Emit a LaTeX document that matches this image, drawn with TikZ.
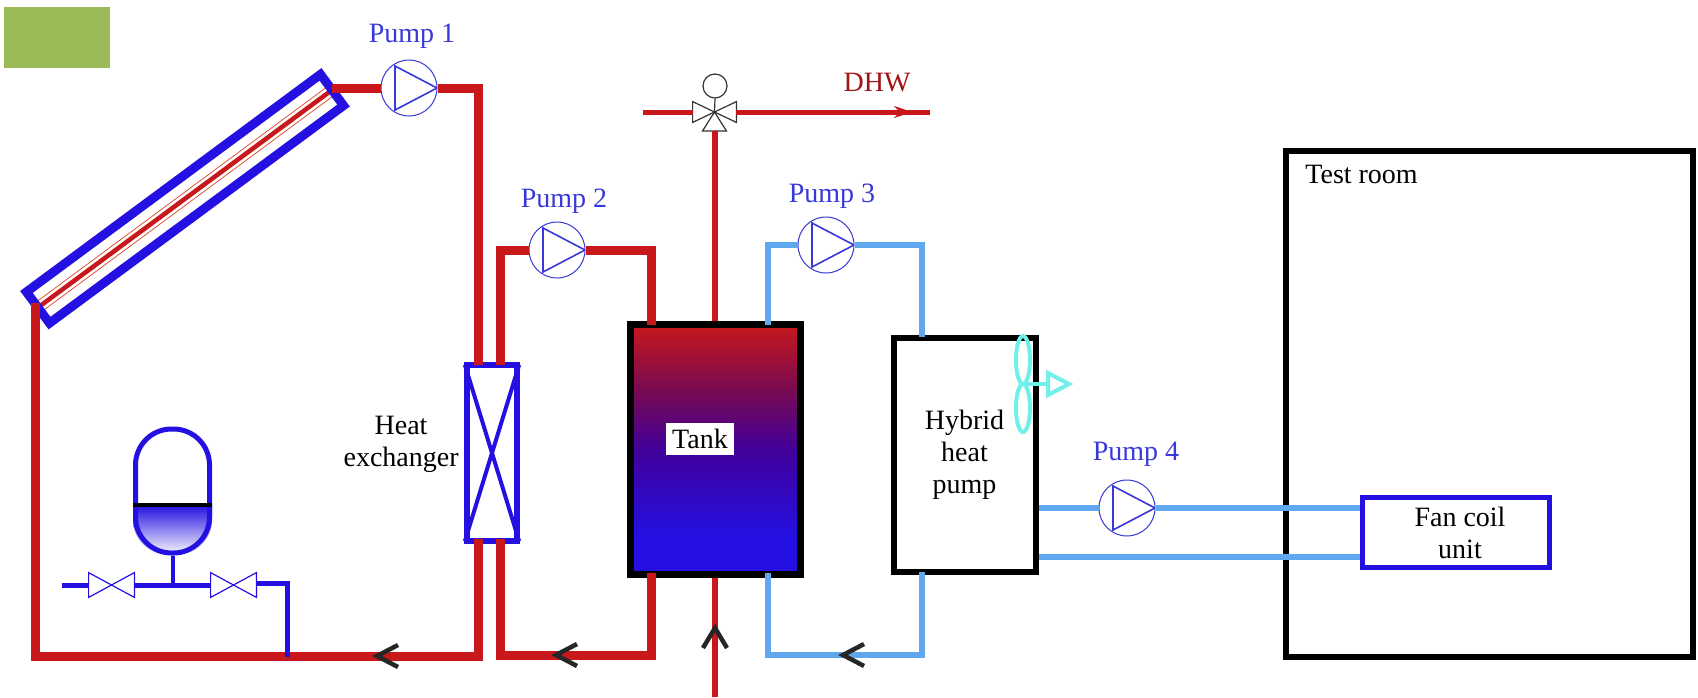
\documentclass[tikz,border=0pt]{standalone}
\usepackage{fontspec}
\setmainfont{Liberation Serif}
\usetikzlibrary{positioning,backgrounds,arrows.meta}
\definecolor{hotred}{HTML}{C8181C}
\definecolor{coolblue}{HTML}{5FA8EE}
\definecolor{deepblue}{HTML}{2410E0}
\definecolor{pumpblue}{HTML}{3838D8}
\definecolor{fancyan}{HTML}{70F0E8}
\definecolor{labelgreen}{HTML}{9BBB59}
\definecolor{tankmid}{HTML}{42009A}
\definecolor{tankdusk}{HTML}{7A0A50}
\pgfdeclareverticalshading{tankfade}{100bp}{color(0bp)=(deepblue); color(33bp)=(deepblue); color(50bp)=(tankmid); color(62bp)=(tankdusk); color(75bp)=(hotred); color(100bp)=(hotred)}
\begin{document}
\begin{tikzpicture}[
	x=0.5pt, y=-0.5pt,
	node distance=4.5pt and 4.5pt,
	every node/.style={font=\fontsize{14}{16}\selectfont},
	block/.style={rectangle, draw=black, fill=white, line width=3pt, inner sep=0pt, align=center},
	tag/.style={inner sep=0pt, align=center},
	pumptag/.style={tag, text=pumpblue},
	pumpunit/.style={circle, draw=pumpblue, fill=white, line width=0.5pt, inner sep=0pt, minimum size=28pt,
		path picture={\draw[pumpblue, line width=0.8pt] ([xshift=-7pt,yshift=11pt]path picture bounding box.center) -- ([xshift=-7pt,yshift=-11pt]path picture bounding box.center) -- ([xshift=14pt]path picture bounding box.center) -- cycle;}},
	gate/.style={inner sep=0pt, minimum width=22.5pt, minimum height=12pt},
	hot/.style={draw=hotred, line width=4.5pt},
	hotthin/.style={draw=hotred, line width=3pt},
	dhw/.style={draw=hotred, line width=2.5pt},
	cool/.style={draw=coolblue, line width=2.75pt},
	feed/.style={draw=deepblue, line width=2.5pt},
	fanline/.style={draw=fancyan, line width=2pt},
	barb/.style={draw=black!85, line width=2.25pt},
	]
	\useasboundingbox (0,0) rectangle (1698,697);
	\node[fill=labelgreen, inner sep=0pt, minimum width=53pt, minimum height=30.5pt] (badge) at (57,37.5) {};

	\node[block, minimum width=203.5pt, minimum height=253pt] (room) at (1489.5,404) {};
	\node[tag, below right=8.5pt and 11pt of room.north west] (roomtag) {Test room};

	%collector
	\node[rectangle, inner sep=0pt, rotate=36.5, minimum width=182.5pt, minimum height=19pt] (collector) at (185,198.75) {};
	\draw[draw=hotred!70!orange, line width=0.4pt, double=white, double distance=5pt] (collector.west) -- (collector.east);
	\draw[hotred, line width=2.25pt] (collector.west) -- (collector.east);
	\draw[deepblue, line width=4.5pt] (collector.north west) -- (collector.north east) -- (collector.south east) -- (collector.south west) -- cycle;

	\node[pumpunit] (pump1) at (409,88) {};
	\node[pumptag, above=of pump1, xshift=1.5pt, yshift=1pt] (pump1tag) {Pump 1};
	\node[pumpunit] (pump2) at (557,250) {};
	\node[pumptag, above=of pump2, xshift=3.5pt, yshift=-0.5pt] (pump2tag) {Pump 2};
	\node[pumpunit] (pump3) at (826,245) {};
	\node[pumptag, above=of pump3, xshift=3pt, yshift=-0.5pt] (pump3tag) {Pump 3};
	\node[pumpunit] (pump4) at (1127,508) {};
	\node[pumptag, above=of pump4, xshift=4.5pt, yshift=2pt] (pump4tag) {Pump 4};

	\node[block, draw=deepblue, minimum width=25pt, minimum height=88pt] (hex) at (492,453) {};
	\draw[deepblue, line width=2pt, shorten >=1.5pt, shorten <=1.5pt] (hex.north west) -- (hex.south east);
	\draw[deepblue, line width=2pt, shorten >=1.5pt, shorten <=1.5pt] (hex.north east) -- (hex.south west);
	\node[tag, left=2.5pt of hex, yshift=4.5pt] (hextag) {Heat\\exchanger};

	\node[block, line width=3.5pt, shading=tankfade, minimum width=85pt, minimum height=125pt] (tank) at (715,449) {};
	\node[fill=white, inner sep=3pt] (tanktag) at (700,439) {Tank};

	\node[block, minimum width=71pt, minimum height=117pt] (hybrid) at (964.5,454.5) {Hybrid\\heat\\pump};
	\node[block, draw=deepblue, line width=2.5pt, minimum width=93.5pt, minimum height=35pt] (coil) at (1456,532.5) {};
	\node[tag] (coiltag) at (1460,533) {Fan coil\\unit};

	%fan
	\coordinate (fanhub) at (1023,384);
	\draw[fanline] (fanhub) ++(0,-24) ellipse (7 and 24);
	\draw[fanline] (fanhub) ++(0,24) ellipse (7 and 24);
	\draw[fanline] (fanhub) -- ++(25,0);
	\draw[fanline] (fanhub) +(25,-11) -- +(46,0) -- +(25,11) -- cycle;

	%vessel
	\node[rectangle, draw=deepblue, line width=2.5pt, rounded corners=18pt, inner sep=0pt, minimum width=37pt, minimum height=62pt] (vessel) at (172.5,491) {};
	\coordinate (level) at (172.5,505);
	\begin{scope}[on background layer]
		\shade[top color=deepblue, bottom color=white] (vessel.west |- level) -- (vessel.east |- level) [rounded corners=18pt] -- (vessel.south east) -- (vessel.south west) [sharp corners] -- cycle;
	\end{scope}
	\draw[black, line width=2pt] (vessel.west |- level) -- (vessel.east |- level);
	\node[gate] (valvea) at (111.5,585) {};
	\node[gate] (valveb) at (233.5,585) {};
	\foreach \v in {valvea,valveb}
		\draw[deepblue, line width=0.6pt] (\v.north west) -- (\v.south east) -- (\v.north east) -- (\v.south west) -- cycle;

	%mixing valve
	\node[gate, minimum width=21.5pt, minimum height=10pt] (mix) at (714.5,112) {};
	\draw[black!80, line width=0.6pt] (mix.north west) -- (mix.center) -- (mix.south west) -- cycle;
	\draw[black!80, line width=0.6pt] (mix.north east) -- (mix.center) -- (mix.south east) -- cycle;
	\draw[black!80, line width=0.6pt] (mix.center) -- +(-12,19) -- +(12,19) -- cycle;
	\node[circle, draw=black!80, line width=0.6pt, inner sep=0pt, minimum size=12pt] (actuator) at (715,86) {};
	\draw[black!80, line width=0.6pt] (actuator.south) -- (mix.center);
	\node[tag, text=hotred!80!black] (dhwtag) at (877,83) {DHW};

	\coordinate (collfoot) at (35,303);
	\coordinate (hexa) at (478,365);
	\coordinate (hexb) at (500,365);
	\coordinate (hexc) at (478,539);
	\coordinate (hexd) at (500,539);
	\coordinate (tanka) at (651,325);
	\coordinate (tankb) at (651,573);
	\coordinate (tankc) at (768,325);
	\coordinate (tankd) at (768,573);
	\coordinate (hybrida) at (922,337);
	\coordinate (hybridb) at (922,572);
	\coordinate (chevrona) at (377,656);
	\coordinate (chevronb) at (556,655);
	\coordinate (chevronc) at (843,655);
	\coordinate (chevrond) at (715,628);
	\coordinate (inlet) at (715,697);
	\coordinate (mixfoot) at (715,131);
	\coordinate (mixin) at (643,112);
	\coordinate (dhwtip) at (912,112);
	\coordinate (dhwend) at (930,112);
	\coordinate (ret) at (1200,557);
	\coordinate (feedend) at (62,585);
	\coordinate (feedjoin) at (287,657);
	\coordinate (feedbend) at (287,583);

	%pipes
	\path[hot] (collector.east |- pump1.west) to (pump1.west);
	\path[hot] (pump1.east) -| (hexa);
	\path[hot] (hexc) |- (chevrona) -| (collfoot);
	\path[hot] (hexb) |- (pump2.west);
	\path[hot] (pump2.east) -| (tanka);
	\path[hot] (hexd) |- (chevronb) -| (tankb);
	\path[hotthin] (tank.north) to (mixfoot);
	\path[hotthin] (inlet) to (tank.south);
	\path[dhw] (mixin) to (mix.west);
	\path[dhw] (mix.east) to (dhwend);
	\path[dhw, -{Stealth[length=9pt,width=6pt]}] (mix.east) to (dhwtip);
	\path[cool] (pump3.west) -| (tankc);
	\path[cool] (pump3.east) -| (hybrida);
	\path[cool] (hybridb) |- (chevronc) -| (tankd);
	\path[cool] (hybrid.east |- pump4.west) to (pump4.west);
	\path[cool] (pump4.east) to (coil.west |- pump4.east);
	\path[cool] (hybrid.east |- ret) to (coil.west |- ret);
	\path[feed] (feedend) to (valvea.west);
	\path[feed] (valvea.east) to (valveb.west);
	\path[feed] (valveb.east |- feedbend) -- (feedbend) -- (feedjoin);
	\path[draw=deepblue, line width=2pt] (vessel.south) to (vessel.south |- valvea.center);

	\draw[barb] (chevrona) ++(21,-11) -- (chevrona) -- ++(21,11);
	\draw[barb] (chevronb) ++(21,-11) -- (chevronb) -- ++(21,11);
	\draw[barb] (chevronc) ++(21,-11) -- (chevronc) -- ++(21,11);
	\draw[barb] (chevrond) ++(-12,20) -- (chevrond) -- ++(12,20);
\end{tikzpicture}
\end{document}
